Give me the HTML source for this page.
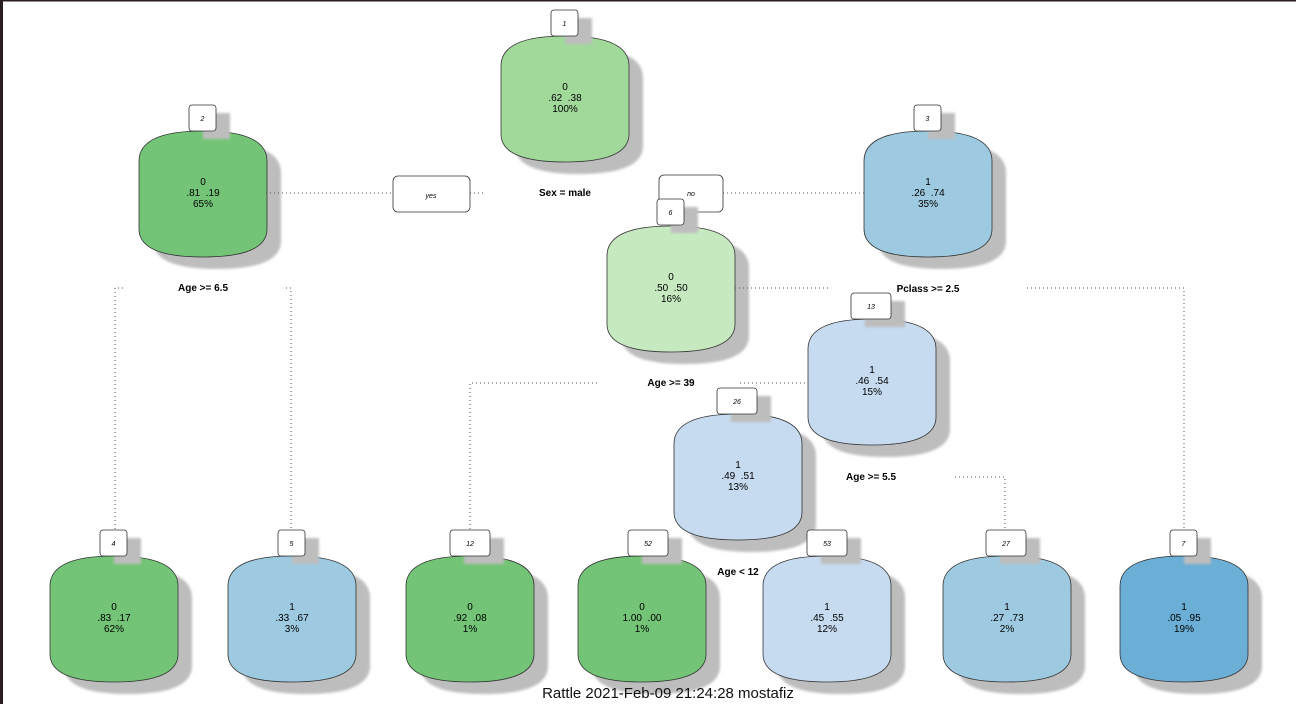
<!DOCTYPE html>
<html><head><meta charset="utf-8"><style>
html,body{margin:0;padding:0;background:#fff;}
svg{display:block;}
text{font-family:"Liberation Sans",sans-serif;white-space:pre;}
</style></head><body>
<svg width="1296" height="704" viewBox="0 0 1296 704" xmlns="http://www.w3.org/2000/svg" xml:space="preserve">
<defs>
<filter id="b" x="-20%" y="-20%" width="140%" height="140%"><feGaussianBlur stdDeviation="1.2"/></filter>
<path id="s" d="M0,30 C0,6 30,0 64,0 C98,0 128,6 128,30 V98 C128,120 98,126 64,126 C30,126 0,120 0,98 Z"/>
</defs>
<rect x="0" y="0" width="1296" height="704" fill="#fff"/>
<rect x="0" y="0" width="3" height="704" fill="#2a1e24"/>
<rect x="0" y="0" width="1296" height="1.5" fill="#2a1e24"/>

<g font-size="10" text-anchor="middle">
<g transform="translate(501,36)">
<use href="#s" x="14" y="12" fill="#bdbdbd" filter="url(#b)"/>
<use href="#s" fill="#a1d99b" stroke="#333" stroke-width="0.8"/>
<text x="64" y="54">0</text><text x="64" y="65">.62  .38</text><text x="64" y="76">100%</text>
</g>
<g transform="translate(139,131)">
<use href="#s" x="14" y="12" fill="#bdbdbd" filter="url(#b)"/>
<use href="#s" fill="#73c476" stroke="#333" stroke-width="0.8"/>
<text x="64" y="54">0</text><text x="64" y="65">.81  .19</text><text x="64" y="76">65%</text>
</g>
<g transform="translate(864,131)">
<use href="#s" x="14" y="12" fill="#bdbdbd" filter="url(#b)"/>
<use href="#s" fill="#9ecae1" stroke="#333" stroke-width="0.8"/>
<text x="64" y="54">1</text><text x="64" y="65">.26  .74</text><text x="64" y="76">35%</text>
</g>
<g stroke="#555" stroke-width="1" stroke-dasharray="1,3" fill="none">
<path d="M266 193H393M470 193H486M723 193H864"/>
</g>
<rect x="393" y="176" width="77" height="36" rx="5" fill="#fff" stroke="#333" stroke-width="0.8"/>
<text x="431" y="198" font-size="7" font-style="italic">yes</text>
<rect x="659" y="175" width="64" height="37" rx="5" fill="#fff" stroke="#333" stroke-width="0.8"/>
<text x="691" y="196" font-size="7" font-style="italic">no</text>
<g transform="translate(607,226)">
<use href="#s" x="14" y="12" fill="#bdbdbd" filter="url(#b)"/>
<use href="#s" fill="#c7e9c0" stroke="#333" stroke-width="0.8"/>
<text x="64" y="54">0</text><text x="64" y="65">.50  .50</text><text x="64" y="76">16%</text>
</g>
<g transform="translate(808,319)">
<use href="#s" x="14" y="12" fill="#bdbdbd" filter="url(#b)"/>
<use href="#s" fill="#c6dbef" stroke="#333" stroke-width="0.8"/>
<text x="64" y="54">1</text><text x="64" y="65">.46  .54</text><text x="64" y="76">15%</text>
</g>
<g transform="translate(674,414)">
<use href="#s" x="14" y="12" fill="#bdbdbd" filter="url(#b)"/>
<use href="#s" fill="#c6dbef" stroke="#333" stroke-width="0.8"/>
<text x="64" y="54">1</text><text x="64" y="65">.49  .51</text><text x="64" y="76">13%</text>
</g>
<g transform="translate(50,556)">
<use href="#s" x="14" y="12" fill="#bdbdbd" filter="url(#b)"/>
<use href="#s" fill="#73c476" stroke="#333" stroke-width="0.8"/>
<text x="64" y="54">0</text><text x="64" y="65">.83  .17</text><text x="64" y="76">62%</text>
</g>
<g transform="translate(228,556)">
<use href="#s" x="14" y="12" fill="#bdbdbd" filter="url(#b)"/>
<use href="#s" fill="#9ecae1" stroke="#333" stroke-width="0.8"/>
<text x="64" y="54">1</text><text x="64" y="65">.33  .67</text><text x="64" y="76">3%</text>
</g>
<g transform="translate(406,556)">
<use href="#s" x="14" y="12" fill="#bdbdbd" filter="url(#b)"/>
<use href="#s" fill="#73c476" stroke="#333" stroke-width="0.8"/>
<text x="64" y="54">0</text><text x="64" y="65">.92  .08</text><text x="64" y="76">1%</text>
</g>
<g transform="translate(578,556)">
<use href="#s" x="14" y="12" fill="#bdbdbd" filter="url(#b)"/>
<use href="#s" fill="#73c476" stroke="#333" stroke-width="0.8"/>
<text x="64" y="54">0</text><text x="64" y="65">1.00  .00</text><text x="64" y="76">1%</text>
</g>
<g transform="translate(763,556)">
<use href="#s" x="14" y="12" fill="#bdbdbd" filter="url(#b)"/>
<use href="#s" fill="#c6dbef" stroke="#333" stroke-width="0.8"/>
<text x="64" y="54">1</text><text x="64" y="65">.45  .55</text><text x="64" y="76">12%</text>
</g>
<g transform="translate(943,556)">
<use href="#s" x="14" y="12" fill="#bdbdbd" filter="url(#b)"/>
<use href="#s" fill="#9ecae1" stroke="#333" stroke-width="0.8"/>
<text x="64" y="54">1</text><text x="64" y="65">.27  .73</text><text x="64" y="76">2%</text>
</g>
<g transform="translate(1120,556)">
<use href="#s" x="14" y="12" fill="#bdbdbd" filter="url(#b)"/>
<use href="#s" fill="#6baed6" stroke="#333" stroke-width="0.8"/>
<text x="64" y="54">1</text><text x="64" y="65">.05  .95</text><text x="64" y="76">19%</text>
</g>

<g stroke="#555" stroke-width="1" stroke-dasharray="1,3" fill="none">
<path d="M123 288H115V530M286 288H291V530"/>
<path d="M735 288H830M1027 288H1184V530"/>
<path d="M597 383H470V530M740 383H808"/>
<path d="M955 477H1005V530"/>
</g>

<g font-size="7" font-style="italic">
<g transform="translate(551,10)"><rect x="14" y="8" width="27" height="26" fill="#bdbdbd" filter="url(#b)"/><rect width="27" height="26" rx="3" fill="#fff" stroke="#333" stroke-width="0.8"/><text x="13.5" y="16">1</text></g>
<g transform="translate(189,105)"><rect x="14" y="8" width="27" height="26" fill="#bdbdbd" filter="url(#b)"/><rect width="27" height="26" rx="3" fill="#fff" stroke="#333" stroke-width="0.8"/><text x="13.5" y="16">2</text></g>
<g transform="translate(914,105)"><rect x="14" y="8" width="27" height="26" fill="#bdbdbd" filter="url(#b)"/><rect width="27" height="26" rx="3" fill="#fff" stroke="#333" stroke-width="0.8"/><text x="13.5" y="16">3</text></g>
<g transform="translate(657,199)"><rect x="14" y="8" width="27" height="26" fill="#bdbdbd" filter="url(#b)"/><rect width="27" height="26" rx="3" fill="#fff" stroke="#333" stroke-width="0.8"/><text x="13.5" y="16">6</text></g>
<g transform="translate(851,293)"><rect x="14" y="8" width="40" height="26" fill="#bdbdbd" filter="url(#b)"/><rect width="40" height="26" rx="3" fill="#fff" stroke="#333" stroke-width="0.8"/><text x="20" y="16">13</text></g>
<g transform="translate(717,388)"><rect x="14" y="8" width="40" height="26" fill="#bdbdbd" filter="url(#b)"/><rect width="40" height="26" rx="3" fill="#fff" stroke="#333" stroke-width="0.8"/><text x="20" y="16">26</text></g>
<g transform="translate(100,530)"><rect x="14" y="8" width="27" height="26" fill="#bdbdbd" filter="url(#b)"/><rect width="27" height="26" rx="3" fill="#fff" stroke="#333" stroke-width="0.8"/><text x="13.5" y="16">4</text></g>
<g transform="translate(278,530)"><rect x="14" y="8" width="27" height="26" fill="#bdbdbd" filter="url(#b)"/><rect width="27" height="26" rx="3" fill="#fff" stroke="#333" stroke-width="0.8"/><text x="13.5" y="16">5</text></g>
<g transform="translate(450,530)"><rect x="14" y="8" width="40" height="26" fill="#bdbdbd" filter="url(#b)"/><rect width="40" height="26" rx="3" fill="#fff" stroke="#333" stroke-width="0.8"/><text x="20" y="16">12</text></g>
<g transform="translate(628,530)"><rect x="14" y="8" width="40" height="26" fill="#bdbdbd" filter="url(#b)"/><rect width="40" height="26" rx="3" fill="#fff" stroke="#333" stroke-width="0.8"/><text x="20" y="16">52</text></g>
<g transform="translate(807,530)"><rect x="14" y="8" width="40" height="26" fill="#bdbdbd" filter="url(#b)"/><rect width="40" height="26" rx="3" fill="#fff" stroke="#333" stroke-width="0.8"/><text x="20" y="16">53</text></g>
<g transform="translate(986,530)"><rect x="14" y="8" width="40" height="26" fill="#bdbdbd" filter="url(#b)"/><rect width="40" height="26" rx="3" fill="#fff" stroke="#333" stroke-width="0.8"/><text x="20" y="16">27</text></g>
<g transform="translate(1170,530)"><rect x="14" y="8" width="27" height="26" fill="#bdbdbd" filter="url(#b)"/><rect width="27" height="26" rx="3" fill="#fff" stroke="#333" stroke-width="0.8"/><text x="13.5" y="16">7</text></g>
</g>

<g font-size="10" font-weight="bold">
<text x="565" y="196">Sex = male</text>
<text x="203" y="291">Age &gt;= 6.5</text>
<text x="928" y="292">Pclass &gt;= 2.5</text>
<text x="671" y="386">Age &gt;= 39</text>
<text x="871" y="480">Age &gt;= 5.5</text>
<text x="738" y="575">Age &lt; 12</text>
</g>
</g>
<text x="668" y="698" font-size="15" text-anchor="middle" fill="#111">Rattle 2021-Feb-09 21:24:28 mostafiz</text>
</svg>
</body></html>
